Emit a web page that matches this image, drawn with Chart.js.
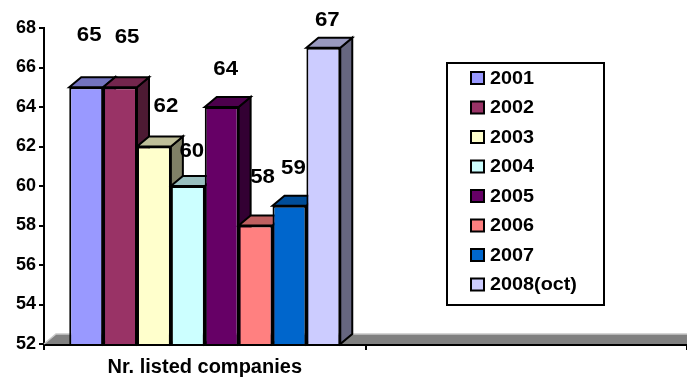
<!DOCTYPE html>
<html>
<head>
<meta charset="utf-8">
<script src="https://cdn.jsdelivr.net/npm/chart.js@4.4.1/dist/chart.umd.min.js"></script>
<style>
  html, body { margin: 0; padding: 0; background: #fff; }
  #wrap { width: 687px; height: 381px; }
</style>
</head>
<body>
<div id="wrap"><canvas id="chart"></canvas></div>
<script>
// ---- data ----
const categories = ['Nr. listed companies', ''];
const seriesNames = ['2001', '2002', '2003', '2004', '2005', '2006', '2007', '2008(oct)'];
const listedCompanies = [65, 65, 62, 60, 64, 58, 59, 67];
const yTicks = [52, 54, 56, 58, 60, 62, 64, 66, 68];

// ---- look ----
const barColors = ['#9999FF', '#993366', '#FFFFCC', '#CCFFFF', '#660066', '#FF8080', '#0066CC', '#CCCCFF'];
// where the old excel chart dropped each value label, relative to its bar top
const labelNudge = [[3, -52], [7, -50], [12, -40], [4, -35], [4, -38], [7, -48], [4, -38], [4, -28]];
const DEPTH_X = 12, DEPTH_Y = 10;
const FONT = "'Liberation Sans', Arial, sans-serif";

function shade(hex, f) {
    const n = parseInt(hex.slice(1), 16);
    const r = Math.round(((n >> 16) & 255) * f);
    const g = Math.round(((n >> 8) & 255) * f);
    const b = Math.round((n & 255) * f);
    return `rgb(${r},${g},${b})`;
}

function poly(ctx, pts, fill) {
    ctx.beginPath();
    ctx.moveTo(pts[0][0], pts[0][1]);
    for (let k = 1; k < pts.length; k++) ctx.lineTo(pts[k][0], pts[k][1]);
    ctx.closePath();
    ctx.fillStyle = fill;
    ctx.fill();
    ctx.stroke();
}

// text in the picture is a bit wider than Arial, stretch it slightly
function wideText(ctx, txt, x, y, sx) {
    ctx.save();
    ctx.translate(x, y);
    ctx.scale(sx, 1);
    ctx.fillText(txt, 0, 0);
    ctx.restore();
}

// floor + top / side faces of the bars
const bar3d = {
    id: 'bar3d',
    beforeDatasetsDraw(chart) {
        const ctx = chart.ctx, a = chart.chartArea;
        ctx.save();
        ctx.fillStyle = '#808080';
        ctx.beginPath();
        ctx.moveTo(a.left, a.bottom);
        ctx.lineTo(a.left + DEPTH_X, a.bottom - DEPTH_Y);
        ctx.lineTo(a.right, a.bottom - DEPTH_Y);
        ctx.lineTo(a.right, a.bottom);
        ctx.closePath();
        ctx.fill();
        ctx.strokeStyle = '#c8c8c8';
        ctx.lineWidth = 1.5;
        ctx.beginPath();
        ctx.moveTo(a.left, a.bottom);
        ctx.lineTo(a.left + DEPTH_X, a.bottom - DEPTH_Y);
        ctx.lineTo(a.right, a.bottom - DEPTH_Y);
        ctx.stroke();

        ctx.lineWidth = 2;
        ctx.strokeStyle = '#000';
        chart.data.datasets.forEach((ds, i) => {
            const bar = chart.getDatasetMeta(i).data[0];
            const { x, y, width } = bar.getProps(['x', 'y', 'width'], true);
            // bars start at the axis minimum, not at zero
            const base = Math.min(bar.base, a.bottom);
            const l = x - width / 2, r = x + width / 2;
            poly(ctx, [[r, y], [r + DEPTH_X, y - DEPTH_Y], [r + DEPTH_X, base - DEPTH_Y], [r, base]], shade(ds.backgroundColor, 0.5));
            poly(ctx, [[l, y], [l + DEPTH_X, y - DEPTH_Y], [r + DEPTH_X, y - DEPTH_Y], [r, y]], shade(ds.backgroundColor, 0.75));
        });
        ctx.restore();
    },
    afterDatasetsDraw(chart) {
        const ctx = chart.ctx;
        ctx.save();
        ctx.font = `bold 21px ${FONT}`;
        ctx.fillStyle = '#000';
        ctx.textAlign = 'center';
        ctx.textBaseline = 'middle';
        chart.data.datasets.forEach((ds, i) => {
            const bar = chart.getDatasetMeta(i).data[0];
            const nd = labelNudge[i];
            wideText(ctx, String(ds.data[0]), bar.x + nd[0], bar.y + nd[1], 1.06);
        });
        ctx.restore();
    }
};

// boxed legend sitting over the right part of the plot
const legendBox = {
    id: 'legendBox',
    afterDraw(chart) {
        const ctx = chart.ctx;
        const bx = 447, by = 63, bw = 157, bh = 242;
        ctx.save();
        ctx.fillStyle = '#fff';
        ctx.fillRect(bx, by, bw, bh);
        ctx.lineWidth = 2;
        ctx.strokeStyle = '#000';
        ctx.strokeRect(bx, by, bw, bh);
        ctx.font = `bold 18px ${FONT}`;
        ctx.textBaseline = 'middle';
        ctx.textAlign = 'left';
        chart.data.datasets.forEach((ds, i) => {
            const cy = by + 15 + i * 29.5;
            ctx.fillStyle = ds.backgroundColor;
            ctx.fillRect(471, cy - 6, 13, 12);
            ctx.strokeRect(471, cy - 6, 13, 12);
            ctx.fillStyle = '#000';
            wideText(ctx, ds.label, 490, cy + 1, 1.1);
        });
        ctx.restore();
    }
};

const datasets = seriesNames.map((name, i) => ({
    label: name,
    data: [listedCompanies[i], null],
    backgroundColor: barColors[i],
    borderColor: '#000',
    borderWidth: 2,
    borderSkipped: false
}));

new Chart(document.getElementById('chart'), {
    type: 'bar',
    data: { labels: categories, datasets: datasets },
    options: {
        responsive: true,
        maintainAspectRatio: false,
        animation: false,
        categoryPercentage: 0.843,
        barPercentage: 1.0,
        layout: { padding: { top: 28, right: 0, left: 0, bottom: 0 } },
        plugins: {
            legend: { display: false },
            tooltip: { enabled: false }
        },
        scales: {
            x: {
                z: 1,
                afterFit: s => { s.height = 37; },
                grid: { drawOnChartArea: false, drawTicks: true, tickLength: 6, color: '#000', lineWidth: 2 },
                border: { color: '#000', width: 3 },
                ticks: { color: '#000', padding: 5, font: { family: FONT, size: 20, weight: 'bold' } }
            },
            y: {
                z: 1,
                min: yTicks[0],
                max: yTicks[yTicks.length - 1],
                afterFit: s => { s.width = 44; },
                afterBuildTicks: s => { s.ticks = yTicks.map(v => ({ value: v })); },
                grid: { drawOnChartArea: false, drawTicks: true, tickLength: 5, color: '#000', lineWidth: 2 },
                border: { color: '#000', width: 2 },
                ticks: { color: '#000', padding: 3, font: { family: FONT, size: 18, weight: 'bold' } }
            }
        }
    },
    plugins: [bar3d, legendBox]
});
</script>
</body>
</html>
